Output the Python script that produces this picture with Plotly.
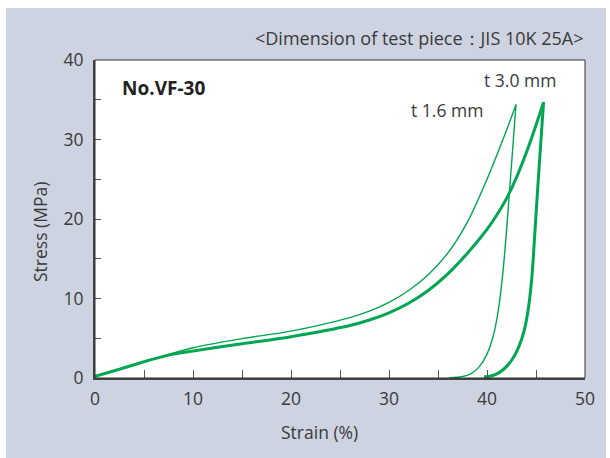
import plotly.graph_objects as go

# t 3.0 mm (thick)
load_strain_30 = [0, 2.5, 5, 8, 10, 15, 20, 26, 28, 30, 32, 34, 36, 38, 40, 41, 42, 43, 44, 45, 45.77]
load_stress_30 = [0.2, 1.1, 2.05, 3.0, 3.4, 4.3, 5.2, 6.6, 7.3, 8.2, 9.4, 11.0, 13.1, 15.7, 18.7, 20.5, 22.6, 25.2, 28.3, 31.8, 34.7]
unload_strain_30 = [45.77, 45.3, 44.9, 44.6, 44.25, 43.8, 43.2, 42.5, 41.7, 40.9, 40.2, 39.7]
unload_stress_30 = [34.7, 26.2, 18.6, 13.0, 9.0, 6.0, 3.8, 2.2, 1.1, 0.45, 0.2, 0.15]

# t 1.6 mm (thin)
load_strain_16 = [0, 2.5, 5, 8, 10, 15, 20, 26, 28, 30, 32, 34, 36, 38, 40, 42, 42.96]
load_stress_16 = [0.2, 1.1, 2.05, 3.15, 3.8, 4.95, 5.9, 7.6, 8.4, 9.5, 11.0, 13.0, 15.7, 19.6, 25.0, 31.2, 34.4]
unload_strain_16 = [42.96, 42.0, 41.6, 41.2, 40.7, 40.0, 39.2, 38.4, 37.4, 36.2]
unload_stress_16 = [34.4, 18.6, 13.0, 8.9, 5.6, 3.0, 1.4, 0.55, 0.15, 0.03]

GREEN = "#00a651"
FONT = "Open Sans"
TXT = "#3a3a3a"
FS = 17.5

fig = go.Figure()
for xs, ys, w in [(load_strain_16, load_stress_16, 1.4), (unload_strain_16, unload_stress_16, 1.4),
                  (load_strain_30, load_stress_30, 3), (unload_strain_30, unload_stress_30, 3)]:
    fig.add_trace(go.Scatter(x=xs, y=ys, mode="lines",
                             line=dict(color=GREEN, width=w, shape="spline", smoothing=0.8),
                             showlegend=False, hoverinfo="skip"))

# plot area in px: x 95..585, y 60..378
L, R, T, B = 95, 585, 60, 378
W, H = 610, 458
pw, ph = R - L, B - T

def px2paper_x(px):
    return (px - L) / pw

def px2paper_y(py):
    return (B - py) / ph

shapes = [
    dict(type="rect", xref="paper", yref="paper", layer="below",
         x0=px2paper_x(6), x1=px2paper_x(606), y0=px2paper_y(470), y1=px2paper_y(8),
         fillcolor="#cdd3e0", line=dict(width=0)),
    dict(type="rect", xref="paper", yref="paper", layer="below",
         x0=0, x1=1, y0=0, y1=1, fillcolor="white", line=dict(width=0)),
    dict(type="rect", xref="paper", yref="paper", layer="above",
         x0=0, x1=1, y0=0, y1=1, line=dict(color="#333333", width=1)),
]

annotations = [
    dict(text="&lt;Dimension of test piece：JIS 10K 25A&gt;", xref="paper", yref="paper",
         x=px2paper_x(585), y=px2paper_y(38), xanchor="right", yanchor="middle",
         showarrow=False, font=dict(family=FONT, size=18, color=TXT)),
    dict(text="<b>No.VF-30</b>", xref="paper", yref="paper",
         x=px2paper_x(120), y=px2paper_y(88), xanchor="left", yanchor="middle",
         showarrow=False, font=dict(family=FONT, size=19, color="#222222")),
    dict(text="t 3.0 mm", xref="paper", yref="paper",
         x=px2paper_x(558), y=px2paper_y(80), xanchor="right", yanchor="middle",
         showarrow=False, font=dict(family=FONT, size=FS, color=TXT)),
    dict(text="t 1.6 mm", xref="paper", yref="paper",
         x=px2paper_x(485), y=px2paper_y(110), xanchor="right", yanchor="middle",
         showarrow=False, font=dict(family=FONT, size=FS, color=TXT)),
    dict(text="Strain (%)", xref="paper", yref="paper",
         x=px2paper_x(319), y=px2paper_y(432), xanchor="center", yanchor="middle",
         showarrow=False, font=dict(family=FONT, size=FS, color=TXT)),
    dict(text="Stress (MPa)", xref="paper", yref="paper", textangle=-90,
         x=px2paper_x(40), y=px2paper_y(232), xanchor="center", yanchor="middle",
         showarrow=False, font=dict(family=FONT, size=FS, color=TXT)),
]

fig.update_layout(
    width=W, height=H,
    margin=dict(l=L, r=W - R, t=T, b=H - B, pad=0),
    paper_bgcolor="white", plot_bgcolor="rgba(0,0,0,0)",
    shapes=shapes, annotations=annotations,
    xaxis=dict(range=[0, 50], tick0=0, dtick=10, showgrid=False, zeroline=False,
               showline=True, linecolor="#444444", linewidth=2,
               ticks="inside", ticklen=8, tickcolor="#555555", tickwidth=1.2,
               minor=dict(dtick=5, ticks="inside", ticklen=8, tickcolor="#555555", tickwidth=1.2),
               tickfont=dict(family=FONT, size=FS, color=TXT), ticklabelstandoff=4),
    yaxis=dict(range=[0, 40], tick0=0, dtick=10, showgrid=False, zeroline=False,
               showline=True, linecolor="#444444", linewidth=2,
               ticks="inside", ticklen=6, tickcolor="#555555", tickwidth=1.2,
               minor=dict(dtick=5, ticks="inside", ticklen=6, tickcolor="#555555", tickwidth=1.2),
               tickfont=dict(family=FONT, size=FS, color=TXT), ticklabelstandoff=6),
)

fig.write_html("out.html")
